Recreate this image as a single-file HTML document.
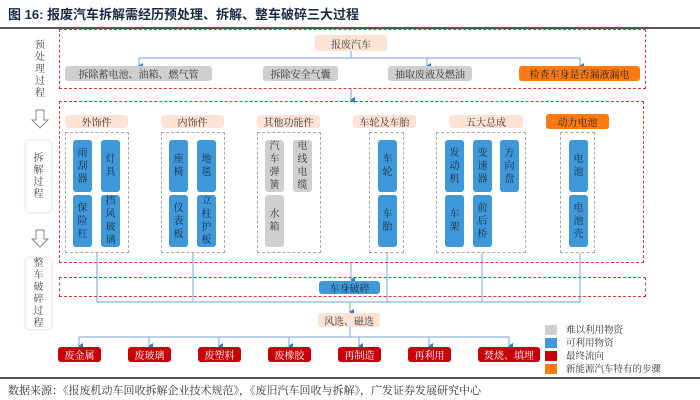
<!DOCTYPE html>
<html><head><meta charset="utf-8"><style>
*{margin:0;padding:0;box-sizing:border-box}
body{width:700px;height:400px;background:#fff;position:relative;overflow:hidden;font-family:"Liberation Sans","Noto Serif CJK SC","Noto Sans CJK SC",serif;color:#333}
.a{position:absolute}
.b{position:absolute;display:flex;align-items:center;justify-content:center;font-size:10px;border-radius:3px;white-space:nowrap}
.g{background:#cfcfcf;color:#333}
.p{background:#fde3d5;color:#333}
.o{background:#ff7a10;color:#222}
.bl{background:#3f98d9;color:#1a2a3a}
.r{background:#c8000a;color:#fff}
.v{position:absolute;display:flex;align-items:center;justify-content:center;font-size:10px;border-radius:3px;width:19px;line-height:13px;text-align:center;padding:0 4px;word-break:break-all;white-space:normal}
.rd{position:absolute;border:1.5px dashed #e0343c}
.gd{position:absolute;border:1px dashed #aaa}
.lab{position:absolute;font-size:10px;width:12px;line-height:12px;text-align:center;word-break:break-all;color:#444}
.side{position:absolute;left:25px;width:27px;border:1px solid #eee;border-radius:5px;background:#fff;box-shadow:0 0 2px #ddd;font-size:10px;line-height:12px;text-align:center;display:flex;align-items:center;justify-content:center;padding:0 8px;word-break:break-all;color:#444}
</style></head><body>
<div class="a" style="left:8px;top:4px;font-size:13px;font-weight:bold;color:#1a2a44;font-family:'Liberation Sans','Noto Sans CJK SC',sans-serif">图 16: 报废汽车拆解需经历预处理、拆解、整车破碎三大过程</div>
<div class="a" style="left:0;top:27px;width:700px;height:1.5px;background:#555"></div>

<svg class="a" style="left:0;top:0" width="700" height="400">
<defs><marker id="m" markerWidth="6" markerHeight="6" refX="3" refY="5" orient="auto-start-reverse" markerUnits="userSpaceOnUse"><path d="M0,1 L6,1 L3,6 z" fill="#3a78d0"/></marker></defs>
<g stroke="#8fb2e0" stroke-width="1.2" fill="none">
<path d="M351,51 V58"/>
<path d="M139,58 H580"/>
<path d="M139,58 V66" marker-end="url(#m)"/>
<path d="M427,58 V66" marker-end="url(#m)"/>
<path d="M580,58 V66" marker-end="url(#m)"/>
<path d="M351,89 V100" marker-end="url(#m)"/>
<path d="M351,262 V280" marker-end="url(#m)"/>
<path d="M97,253 V302 H580 V253"/>
<path d="M193,253 V302"/><path d="M387,253 V302"/><path d="M482,253 V302"/>
<path d="M350,302 V312" marker-end="url(#m)"/>
<path d="M350,327 V337"/>
<path d="M79,337 H509"/>
<path d="M79,337 V346" marker-end="url(#m)"/><path d="M149,337 V346" marker-end="url(#m)"/><path d="M219,337 V346" marker-end="url(#m)"/><path d="M289,337 V346" marker-end="url(#m)"/><path d="M359,337 V346" marker-end="url(#m)"/><path d="M429,337 V346" marker-end="url(#m)"/><path d="M509,337 V346" marker-end="url(#m)"/>
</g>
<g fill="#fff" stroke="#888" stroke-width="1">
<path d="M36,110 H44 V120 H48 L40,128 L32,120 H36 Z"/>
<path d="M36,230 H44 V239 H48 L40,247 L32,239 H36 Z"/>
</g>
</svg>

<div class="lab" style="left:34px;top:40px">预处理过程</div>
<div class="side" style="top:140px;height:73px">拆解过程</div>
<div class="side" style="top:257px;height:73px">整车破碎过程</div>

<div class="rd" style="left:59px;top:29px;width:587px;height:60px"></div>
<div class="b p" style="left:315px;top:35px;width:72px;height:16px">报废汽车</div>
<div class="b g" style="left:65px;top:66px;width:147px;height:15px">拆除蓄电池、油箱、燃气管</div>
<div class="b g" style="left:263px;top:66px;width:75px;height:15px">拆除安全气囊</div>
<div class="b g" style="left:388px;top:66px;width:84px;height:15px">抽取废液及燃油</div>
<div class="b o" style="left:519px;top:66px;width:121px;height:15px">检查车身是否漏液漏电</div>

<div class="rd" style="left:59px;top:101px;width:585px;height:162px"></div>
<div class="b p" style="left:65px;top:115px;width:63px;height:13px">外饰件</div>
<div class="b p" style="left:161px;top:115px;width:63px;height:13px">内饰件</div>
<div class="b p" style="left:257px;top:115px;width:63px;height:13px">其他功能件</div>
<div class="b p" style="left:353px;top:115px;width:63px;height:13px">车轮及车胎</div>
<div class="b p" style="left:449px;top:115px;width:74px;height:13px">五大总成</div>
<div class="b o" style="left:546px;top:114px;width:63px;height:15px">动力电池</div>
<div class="gd" style="left:65px;top:132px;width:64px;height:121px"></div>
<div class="gd" style="left:161px;top:132px;width:64px;height:121px"></div>
<div class="gd" style="left:257px;top:132px;width:64px;height:121px"></div>
<div class="gd" style="left:369px;top:132px;width:35px;height:121px"></div>
<div class="gd" style="left:436px;top:132px;width:90px;height:121px"></div>
<div class="gd" style="left:560px;top:132px;width:35px;height:121px"></div>

<div class="v bl" style="left:73px;top:140px;height:52px">雨刮器</div>
<div class="v bl" style="left:101px;top:140px;height:52px">灯具</div>
<div class="v bl" style="left:73px;top:195px;height:52px">保险杠</div>
<div class="v bl" style="left:101px;top:195px;height:52px">挡风玻璃</div>
<div class="v bl" style="left:169px;top:140px;height:52px">座椅</div>
<div class="v bl" style="left:197px;top:140px;height:52px">地毯</div>
<div class="v bl" style="left:169px;top:195px;height:52px">仪表板</div>
<div class="v bl" style="left:197px;top:195px;height:52px">立柱护板</div>
<div class="v g" style="left:265px;top:140px;height:52px">汽车弹簧</div>
<div class="v g" style="left:293px;top:140px;height:52px">电线电缆</div>
<div class="v g" style="left:265px;top:195px;height:52px">水箱</div>
<div class="v bl" style="left:378px;top:140px;height:52px">车轮</div>
<div class="v bl" style="left:378px;top:195px;height:52px">车胎</div>
<div class="v bl" style="left:445px;top:140px;height:52px">发动机</div>
<div class="v bl" style="left:473px;top:140px;height:52px">变速器</div>
<div class="v bl" style="left:500px;top:140px;height:52px">方向盘</div>
<div class="v bl" style="left:445px;top:195px;height:52px">车架</div>
<div class="v bl" style="left:473px;top:195px;height:52px">前后桥</div>
<div class="v bl" style="left:569px;top:140px;height:52px">电池</div>
<div class="v bl" style="left:569px;top:195px;height:52px">电池壳</div>

<div class="rd" style="left:59px;top:277px;width:587px;height:20px"></div>
<div class="b bl" style="left:319px;top:281px;width:61px;height:13px">车身破碎</div>
<div class="b p" style="left:318px;top:313px;width:62px;height:14px">风选、磁选</div>

<div class="b r" style="left:58px;top:347px;width:43px;height:15px">废金属</div>
<div class="b r" style="left:128px;top:347px;width:43px;height:15px">废玻璃</div>
<div class="b r" style="left:198px;top:347px;width:43px;height:15px">废塑料</div>
<div class="b r" style="left:268px;top:347px;width:43px;height:15px">废橡胶</div>
<div class="b r" style="left:338px;top:347px;width:43px;height:15px">再制造</div>
<div class="b r" style="left:408px;top:347px;width:43px;height:15px">再利用</div>
<div class="b r" style="left:478px;top:347px;width:62px;height:15px">焚烧、填埋</div>

<div class="a" style="left:545px;top:325px;width:12px;height:10px;background:#cfcfcf"></div>
<div class="a" style="left:545px;top:338px;width:12px;height:10px;background:#3f98d9"></div>
<div class="a" style="left:545px;top:351px;width:12px;height:10px;background:#c8000a"></div>
<div class="a" style="left:545px;top:364px;width:12px;height:10px;background:#ff7a10"></div>
<div class="a" style="left:566px;top:324px;font-size:9.5px;line-height:13px;color:#333">难以利用物资<br>可利用物资<br>最终流向<br>新能源汽车特有的步骤</div>

<div class="a" style="left:0;top:377px;width:700px;height:1.5px;background:#555"></div>
<div class="a" style="left:8px;top:382px;font-size:11px;color:#333;white-space:nowrap">数据来源：《报废机动车回收拆解企业技术规范》，《废旧汽车回收与拆解》，广发证券发展研究中心</div>
</body></html>
